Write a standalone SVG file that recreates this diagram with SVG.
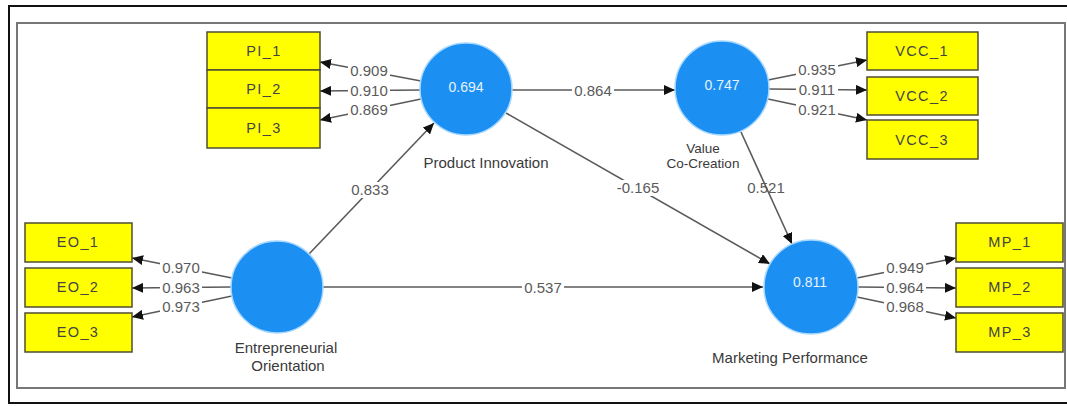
<svg xmlns="http://www.w3.org/2000/svg" width="1067" height="406" viewBox="0 0 1067 406">
<defs>
<style>
text{font-family:"Liberation Sans",Arial,sans-serif}
.lv{fill:#1c8ff2;stroke:#a8d8ff;stroke-width:1.5}
.lvv{font-size:14px;fill:#e6f3ff;text-anchor:middle}
.lvl{font-size:15px;fill:#3a3a3a;text-anchor:middle}
.box{fill:#ffff00;stroke:#4d4d33;stroke-width:1.5}
.bt{font-size:14.5px;fill:#444;text-anchor:middle;letter-spacing:1.4px}
.ln{stroke:#5a5a5a;stroke-width:1.6;fill:none}
.num{font-size:15px;fill:#5a5a5a;text-anchor:middle}
.bg{fill:#fff}
</style>
<marker id="ah" markerUnits="userSpaceOnUse" markerWidth="12" markerHeight="10" refX="11" refY="5" orient="auto">
<path d="M0,0 L11,5 L0,10 z" fill="#111"/>
</marker>
</defs>
<rect x="0" y="0" width="1067" height="406" fill="#fff"/>
<rect x="9" y="6" width="1070" height="397" fill="none" stroke="#111" stroke-width="2"/>
<rect x="17" y="23" width="1048" height="365" fill="none" stroke="#777" stroke-width="2"/>

<g id="connectors">
<!-- structural paths -->
<line class="ln" x1="309" y1="254" x2="434" y2="123" marker-end="url(#ah)"/>
<rect class="bg" x="350" y="182" width="40" height="16"/>
<text class="num" x="370" y="195">0.833</text>

<line class="ln" x1="512" y1="90" x2="675" y2="90" marker-end="url(#ah)"/>
<rect class="bg" x="572" y="82" width="42" height="16"/>
<text class="num" x="593" y="96">0.864</text>

<line class="ln" x1="506" y1="113" x2="770" y2="264" marker-end="url(#ah)"/>
<rect class="bg" x="612" y="180" width="52" height="16"/>
<text class="num" x="638" y="193">-0.165</text>

<text class="num" x="766" y="193">0.521</text>
<line class="ln" x1="741" y1="132" x2="792" y2="244" marker-end="url(#ah)"/>

<line class="ln" x1="323" y1="287" x2="763" y2="287" marker-end="url(#ah)"/>
<rect class="bg" x="522" y="279" width="42" height="16"/>
<text class="num" x="543" y="293">0.537</text>

<!-- PI loadings -->
<line class="ln" x1="421" y1="81" x2="320" y2="62" marker-end="url(#ah)"/>
<line class="ln" x1="420" y1="90" x2="320" y2="91" marker-end="url(#ah)"/>
<line class="ln" x1="421" y1="99" x2="320" y2="120" marker-end="url(#ah)"/>
<rect class="bg" x="348" y="63" width="42" height="15"/>
<text class="num" x="369" y="76">0.909</text>
<rect class="bg" x="348" y="83" width="42" height="15"/>
<text class="num" x="369" y="96">0.910</text>
<rect class="bg" x="348" y="102" width="42" height="15"/>
<text class="num" x="369" y="115">0.869</text>

<!-- VCC loadings -->
<line class="ln" x1="768" y1="80" x2="867" y2="60" marker-end="url(#ah)"/>
<line class="ln" x1="769" y1="89" x2="867" y2="90" marker-end="url(#ah)"/>
<line class="ln" x1="768" y1="99" x2="867" y2="120" marker-end="url(#ah)"/>
<rect class="bg" x="796" y="62" width="42" height="15"/>
<text class="num" x="817" y="75">0.935</text>
<rect class="bg" x="796" y="82" width="42" height="15"/>
<text class="num" x="817" y="95">0.911</text>
<rect class="bg" x="796" y="102" width="42" height="15"/>
<text class="num" x="817" y="115">0.921</text>

<!-- EO loadings -->
<line class="ln" x1="232" y1="278" x2="132" y2="258" marker-end="url(#ah)"/>
<line class="ln" x1="231" y1="287" x2="132" y2="288" marker-end="url(#ah)"/>
<line class="ln" x1="232" y1="296" x2="132" y2="317" marker-end="url(#ah)"/>
<rect class="bg" x="160" y="260" width="42" height="15"/>
<text class="num" x="181" y="273">0.970</text>
<rect class="bg" x="160" y="280" width="42" height="15"/>
<text class="num" x="181" y="293">0.963</text>
<rect class="bg" x="160" y="299" width="42" height="15"/>
<text class="num" x="181" y="312">0.973</text>

<!-- MP loadings -->
<line class="ln" x1="857" y1="278" x2="956" y2="258" marker-end="url(#ah)"/>
<line class="ln" x1="858" y1="287" x2="956" y2="288" marker-end="url(#ah)"/>
<line class="ln" x1="857" y1="297" x2="956" y2="318" marker-end="url(#ah)"/>
<rect class="bg" x="884" y="260" width="42" height="15"/>
<text class="num" x="905" y="273">0.949</text>
<rect class="bg" x="884" y="280" width="42" height="15"/>
<text class="num" x="905" y="293">0.964</text>
<rect class="bg" x="884" y="299" width="42" height="15"/>
<text class="num" x="905" y="312">0.968</text>
</g>

<g id="PI">
<circle class="lv" cx="466" cy="89" r="46"/>
<text class="lvv" x="466" y="92">0.694</text>
<text class="lvl" x="486" y="168">Product Innovation</text>
</g>
<g id="VCC">
<circle class="lv" cx="722" cy="88" r="47"/>
<text class="lvv" x="722" y="90">0.747</text>
<text class="lvl" x="703" y="153" style="font-size:13.5px">Value</text>
<text class="lvl" x="703" y="168" style="font-size:13.5px">Co-Creation</text>
</g>
<g id="EO">
<circle class="lv" cx="277" cy="287" r="46"/>
<text class="lvl" x="286" y="353">Entrepreneurial</text>
<text class="lvl" x="288" y="371">Orientation</text>
</g>
<g id="MP">
<circle class="lv" cx="811" cy="287" r="47"/>
<text class="lvv" x="810" y="287">0.811</text>
<text class="lvl" x="790" y="363">Marketing Performance</text>
</g>

<g id="PI_1"><rect class="box" x="207" y="32" width="113" height="38"/><text class="bt" x="264" y="56">PI_1</text></g>
<g id="PI_2"><rect class="box" x="207" y="70" width="113" height="38"/><text class="bt" x="264" y="94">PI_2</text></g>
<g id="PI_3"><rect class="box" x="207" y="108" width="113" height="40"/><text class="bt" x="264" y="133">PI_3</text></g>

<g id="VCC_1"><rect class="box" x="867" y="32" width="111" height="38"/><text class="bt" x="922" y="56">VCC_1</text></g>
<g id="VCC_2"><rect class="box" x="867" y="77" width="111" height="38"/><text class="bt" x="922" y="101">VCC_2</text></g>
<g id="VCC_3"><rect class="box" x="867" y="120" width="111" height="39"/><text class="bt" x="922" y="145">VCC_3</text></g>

<g id="EO_1"><rect class="box" x="25" y="223" width="107" height="39"/><text class="bt" x="78" y="247">EO_1</text></g>
<g id="EO_2"><rect class="box" x="25" y="268" width="107" height="39"/><text class="bt" x="78" y="292">EO_2</text></g>
<g id="EO_3"><rect class="box" x="25" y="313" width="107" height="39"/><text class="bt" x="78" y="337">EO_3</text></g>

<g id="MP_1"><rect class="box" x="956" y="223" width="107" height="39"/><text class="bt" x="1010" y="247">MP_1</text></g>
<g id="MP_2"><rect class="box" x="956" y="268" width="107" height="39"/><text class="bt" x="1010" y="292">MP_2</text></g>
<g id="MP_3"><rect class="box" x="956" y="313" width="107" height="39"/><text class="bt" x="1010" y="337">MP_3</text></g>
</svg>
